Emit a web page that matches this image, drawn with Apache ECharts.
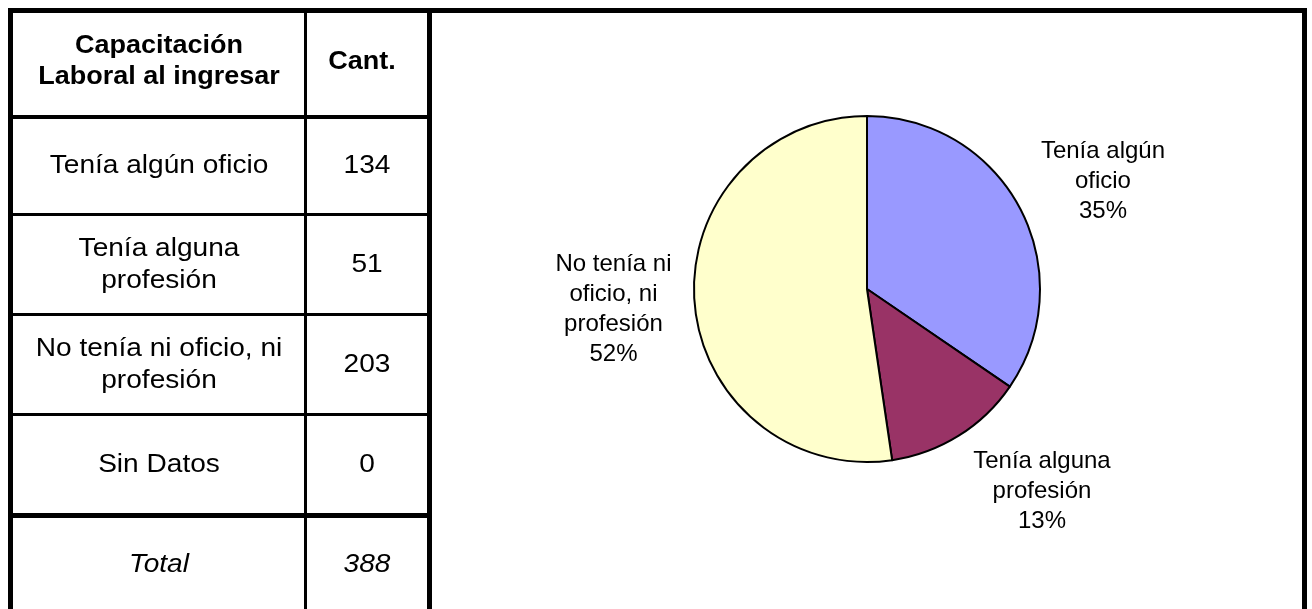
<!DOCTYPE html>
<html>
<head>
<meta charset="utf-8">
<script src="https://cdn.jsdelivr.net/npm/echarts@6/dist/echarts.min.js"></script>
<style>
  html, body { margin: 0; padding: 0; background: #fff; }
  #main { width: 1312px; height: 609px; }
</style>
</head>
<body>
<div id="main"></div>
<script>
var categories = ['Tenía algún oficio', 'Tenía alguna profesión', 'No tenía ni oficio, ni profesión', 'Sin Datos'];
var counts = [134, 51, 203, 0];
var tableLabels = ['Tenía algún oficio', 'Tenía alguna\nprofesión', 'No tenía ni oficio, ni\nprofesión', 'Sin Datos'];
var pieLabels = ['Tenía algún\noficio', 'Tenía alguna\nprofesión', 'No tenía ni\noficio, ni\nprofesión', 'Sin Datos'];
var headers = ['Capacitación\nLaboral al ingresar', 'Cant.'];
var totalLabel = 'Total';
var sliceColors = ['#9999FF', '#993366', '#FFFFCC', '#CCFFFF'];

var FONT = '"Liberation Sans", Arial, sans-serif';

// table layout
var col1X = 159, col2X = 367;
var headerY = 62;
var rowY = [166, 265, 365, 465];
var totalY = 565;
var hLines = [[117, 4], [214.5, 3], [314.5, 3], [414.5, 3], [515.5, 5]];
// label nudges so they sit where the original put them
var labelDy = [-18, 40, 6];

var total = 0;
for (var i = 0; i < counts.length; i++) total += counts[i];

function txt(x, y, s, opts) {
  opts = opts || {};
  return {
    type: 'text', x: x, y: y, scaleX: 1.08, z: 10, silent: true,
    style: {
      text: s, x: 0, y: 0, align: 'center', verticalAlign: 'middle',
      font: (opts.style || '') + ' ' + (opts.weight || 'normal') + ' ' + (opts.size || 26) + 'px ' + FONT,
      lineHeight: opts.lh || 32, fill: '#000'
    }
  };
}
function rect(x, y, w, h) {
  return { type: 'rect', shape: { x: x, y: y, width: w, height: h }, style: { fill: '#000' }, z: 5, silent: true };
}

var graphics = [];
// outer frame and column lines
graphics.push(rect(8, 8, 1299, 5));
graphics.push(rect(8, 8, 5, 601));
graphics.push(rect(427, 8, 5, 601));
graphics.push(rect(1302, 8, 5, 601));
graphics.push(rect(304, 13, 3, 596));
hLines.forEach(function (l) {
  graphics.push(rect(13, l[0] - l[1] / 2, 414, l[1]));
});

graphics.push(txt(col1X, headerY, headers[0], { weight: 'bold', size: 25, lh: 31 }));
graphics.push(txt(col2X - 5, headerY, headers[1], { weight: 'bold', size: 25, lh: 31 }));
for (var r = 0; r < categories.length; r++) {
  graphics.push(txt(col1X, rowY[r], tableLabels[r]));
  graphics.push(txt(col2X, rowY[r], String(counts[r])));
}
graphics.push(txt(col1X, totalY, totalLabel, { style: 'italic' }));
graphics.push(txt(col2X, totalY, String(total), { style: 'italic' }));

var pieData = [];
for (var k = 0; k < categories.length; k++) {
  if (counts[k] > 0) {
    pieData.push({ name: categories[k], value: counts[k], itemStyle: { color: sliceColors[k] } });
  }
}

var chart = echarts.init(document.getElementById('main'));
chart.setOption({
  animation: false,
  backgroundColor: '#fff',
  graphic: graphics,
  series: [{
    type: 'pie',
    center: [867, 289],
    radius: 173,
    startAngle: 90,
    clockwise: true,
    data: pieData,
    itemStyle: { borderColor: '#000', borderWidth: 2 },
    emphasis: { disabled: true },
    label: {
      show: true,
      position: 'outside',
      distanceToLabelLine: 5,
      color: '#000',
      fontFamily: FONT,
      fontSize: 24,
      lineHeight: 30,
      formatter: function (p) {
        var lines = pieLabels[categories.indexOf(p.name)].split('\n');
        lines.push(Math.round(p.percent) + '%');
        return lines.map(function (s) { return '{c|' + s + '}'; }).join('\n');
      },
      rich: { c: { align: 'center', fontSize: 24, lineHeight: 30, fontFamily: FONT, color: '#000' } }
    },
    labelLine: { show: false, length: 18, length2: 0 },
    labelLayout: function (p) {
      return { dy: labelDy[p.dataIndex] || 0 };
    }
  }]
});
</script>
</body>
</html>
